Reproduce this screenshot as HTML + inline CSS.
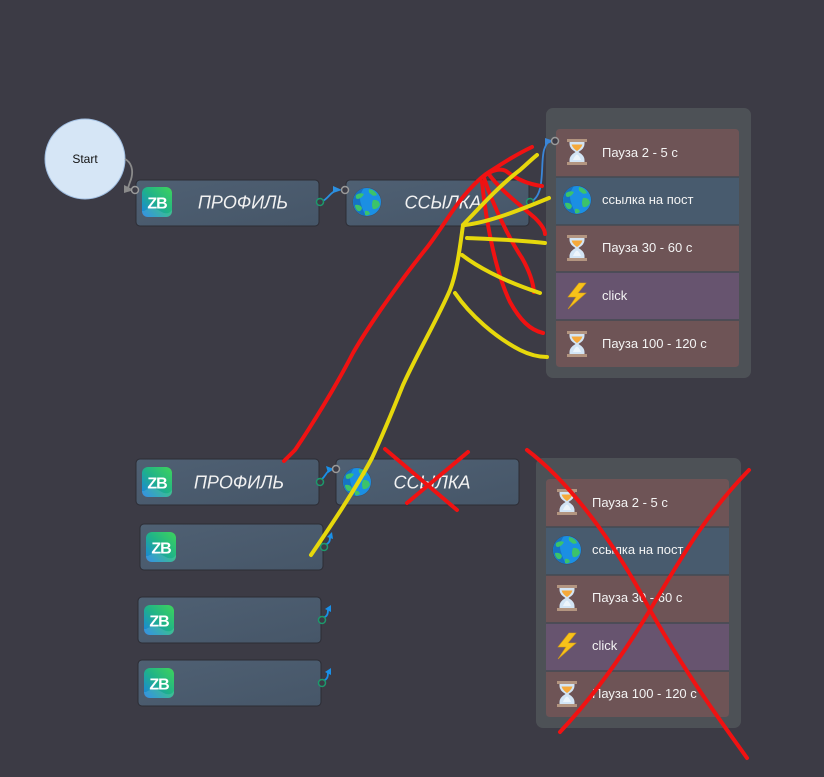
<!DOCTYPE html>
<html><head><meta charset="utf-8"><style>
html,body{margin:0;padding:0;background:#3c3b45;}
svg{display:block;}
</style></head><body>
<svg width="824" height="777" viewBox="0 0 824 777" xmlns="http://www.w3.org/2000/svg" font-family="'Liberation Sans', sans-serif">
<defs>
<linearGradient id="node" x1="0" y1="0" x2="1" y2="1">
<stop offset="0" stop-color="#4f6073"/><stop offset="1" stop-color="#465668"/>
</linearGradient>
<linearGradient id="zb" x1="1" y1="0" x2="0" y2="1">
<stop offset="0" stop-color="#3fd45a"/><stop offset="0.5" stop-color="#1fb28a"/><stop offset="1" stop-color="#1a7fe6"/>
</linearGradient>
<g id="zbi">
<rect x="0" y="0" width="30" height="30" rx="6" fill="url(#zb)"/>
<path d="M2,24 Q10,19 18,24 T30,23 L30,24 Q30,30 24,30 L6,30 Q0,30 0,24 Z" fill="#ffffff" opacity="0.12"/>
<text x="15" y="21.5" text-anchor="middle" font-size="16" font-weight="bold" fill="#fff" letter-spacing="-1">ZB</text>
</g>
<g id="globe">
<circle cx="0" cy="0" r="14.5" fill="#2a3a4a" opacity="0.35"/>
<circle cx="0" cy="0" r="14" fill="#1b8fe3"/>
<path d="M-3,-14 Q-9,-6 -6,2 Q-4,9 -1,14 Q-12,12 -14,0 Q-13,-11 -3,-14 Z" fill="#1673c4"/>
<path d="M-11,-7 Q-7,-10 -3,-8 Q-5,-4 -9,-3 Q-12,-3 -11,-7 Z" fill="#3cc36a"/>
<path d="M2,-13 Q8,-12 10,-7 Q6,-5 4,-8 Q1,-9 2,-13 Z" fill="#3cc36a"/>
<path d="M6,-2 Q12,-3 13,3 Q10,8 6,7 Q4,3 6,-2 Z" fill="#3cc36a"/>
<path d="M-12,3 Q-7,2 -5,6 Q-6,10 -9,9 Q-12,7 -12,3 Z" fill="#3cc36a"/>
<path d="M-2,9 Q2,8 3,12 Q0,14 -2,13 Z" fill="#3cc36a"/>
</g>
<g id="hg">
<rect x="0" y="0" width="20" height="3" fill="#b39580"/>
<rect x="0" y="23" width="20" height="3" fill="#b39580"/>
<path d="M2.5,3 L17.5,3 L17.5,5 Q17.5,9.5 11.5,13 Q17.5,16.5 17.5,21 L17.5,23 L2.5,23 L2.5,21 Q2.5,16.5 8.5,13 Q2.5,9.5 2.5,5 Z" fill="#d3e5f5"/>
<path d="M4.5,5.5 L15.5,5.5 Q14,9.5 10,12 Q6,9.5 4.5,5.5 Z" fill="#f5a93a"/>
<path d="M6,21 Q8,16 10,15.5 Q12,16 14,21 Z" fill="#ffffff" opacity="0.6"/>
</g>
<g id="bolt">
<path d="M12,0 L1,14 L9,14 L1,26 L19,10 L11,10 L19,0 Z" fill="#f7c21a" stroke="#d9a010" stroke-width="0.6"/>
</g>
</defs>

<!-- Start -->
<circle cx="85" cy="159" r="40" fill="#d6e6f6" stroke="#9fbde0" stroke-width="1"/>
<text x="85" y="163" text-anchor="middle" font-size="12" fill="#111">Start</text>
<path d="M125,159 C134,164 133,175 130,182 L128,188" fill="none" stroke="#8a8a8a" stroke-width="1.8"/>
<path d="M124,185 L134,190 L124,193 Z" fill="#8a8a8a"/>

<!-- Node ПРОФИЛЬ 1 -->
<rect x="136" y="180" width="183" height="46" rx="4" fill="url(#node)" stroke="#2c2c34" stroke-width="1"/>
<use href="#zbi" x="142" y="187"/>
<text x="243" y="208.5" text-anchor="middle" font-size="18" font-style="italic" fill="#f2f2f2">ПРОФИЛЬ</text>
<circle cx="135" cy="190" r="3.5" fill="#3c3b45" stroke="#9a9a9a" stroke-width="1.5"/>
<!-- connector 1 -->
<path d="M320,202 C328,200 330,192 337,190" fill="none" stroke="#2b8fe0" stroke-width="1.8"/>
<path d="M333,186 L342,190 L333,193 Z" fill="#2b8fe0"/>
<circle cx="320" cy="202" r="3.5" fill="#3c3b45" stroke="#1c9a6c" stroke-width="1.5"/>

<!-- Node ССЫЛКА 1 -->
<rect x="346" y="180" width="183" height="46" rx="4" fill="url(#node)" stroke="#2c2c34" stroke-width="1"/>
<use href="#globe" x="367" y="202"/>
<text x="443" y="208.5" text-anchor="middle" font-size="18" font-style="italic" fill="#f2f2f2">ССЫЛКА</text>
<circle cx="345" cy="190" r="3.5" fill="#3c3b45" stroke="#9a9a9a" stroke-width="1.5"/>

<!-- Group 1 -->
<rect x="546" y="108" width="205" height="270" rx="7" fill="#4d5156"/>
<path d="M556,133 Q556,129 560,129 L735,129 Q739,129 739,133 L739,177 L556,177 Z" fill="#6e5456"/>
<rect x="556" y="177" width="183" height="48" fill="#485b6e"/>
<rect x="556" y="225" width="183" height="47" fill="#6e5456"/>
<rect x="556" y="272" width="183" height="48" fill="#67546f"/>
<path d="M556,320 L739,320 L739,363 Q739,367 735,367 L560,367 Q556,367 556,363 Z" fill="#6e5456"/>
<g stroke="#434a52" stroke-width="1.5">
<line x1="556" y1="177" x2="739" y2="177"/><line x1="556" y1="225" x2="739" y2="225"/><line x1="556" y1="272" x2="739" y2="272"/><line x1="556" y1="320" x2="739" y2="320"/>
</g>
<use href="#hg" x="567" y="139"/>
<use href="#globe" x="577" y="200"/>
<use href="#hg" x="567" y="235"/>
<use href="#bolt" x="567" y="283"/>
<use href="#hg" x="567" y="331"/>
<g font-size="13" fill="#f4f4f4">
<text x="602" y="157">Пауза 2 - 5 с</text>
<text x="602" y="204">ссылка на пост</text>
<text x="602" y="252">Пауза 30 - 60 с</text>
<text x="602" y="300">click</text>
<text x="602" y="348">Пауза 100 - 120 с</text>
</g>
<!-- connector to group -->
<path d="M530,202 C546,196 540,165 544,150 C546,144 548,142 549,142" fill="none" stroke="#3a86d8" stroke-width="1.8"/>
<path d="M545,138 L554,141 L545,145 Z" fill="#3a86d8"/>
<circle cx="530" cy="202" r="3.5" fill="#3c3b45" stroke="#1c9a6c" stroke-width="1.5"/>
<circle cx="555" cy="141" r="3.5" fill="#3c3b45" stroke="#9a9a9a" stroke-width="1.5"/>

<!-- Bottom nodes -->
<rect x="136" y="459" width="183" height="46" rx="4" fill="url(#node)" stroke="#2c2c34" stroke-width="1"/>
<use href="#zbi" x="142" y="467"/>
<text x="239" y="488.5" text-anchor="middle" font-size="18" font-style="italic" fill="#f2f2f2">ПРОФИЛЬ</text>

<rect x="336" y="459" width="183" height="46" rx="4" fill="url(#node)" stroke="#2c2c34" stroke-width="1"/>
<use href="#globe" x="357" y="482"/>
<text x="432" y="488.5" text-anchor="middle" font-size="18" font-style="italic" fill="#f2f2f2">ССЫЛКА</text>

<rect x="140" y="524" width="183" height="46" rx="4" fill="url(#node)" stroke="#2c2c34" stroke-width="1"/>
<use href="#zbi" x="146" y="532"/>
<rect x="138" y="597" width="183" height="46" rx="4" fill="url(#node)" stroke="#2c2c34" stroke-width="1"/>
<use href="#zbi" x="144" y="605"/>
<rect x="138" y="660" width="183" height="46" rx="4" fill="url(#node)" stroke="#2c2c34" stroke-width="1"/>
<use href="#zbi" x="144" y="668"/>

<g fill="none" stroke="#1a90e8" stroke-width="1.8">
<path d="M321,480 C326,476 326,472 330,470"/>
<path d="M325,545 C330,543 330,540 330,537"/>
<path d="M323,618 C328,616 328,613 328,609"/>
<path d="M323,681 C328,679 328,676 328,672"/>
</g>
<g fill="#1a90e8">
<path d="M326,466 L334,469 L328,473 Z"/>
<path d="M327,537 L332,532 L333,539 Z"/>
<path d="M325,609 L331,605 L331,612 Z"/>
<path d="M325,672 L331,668 L331,675 Z"/>
</g>
<g fill="#3c3b45" stroke="#1c9a6c" stroke-width="1.5">
<circle cx="320" cy="482" r="3.5"/>
<circle cx="324" cy="547" r="3.5"/>
<circle cx="322" cy="620" r="3.5"/>
<circle cx="322" cy="683" r="3.5"/>
</g>
<circle cx="336" cy="469" r="3.5" fill="#3c3b45" stroke="#9a9a9a" stroke-width="1.5"/>

<!-- Group 2 -->
<rect x="536" y="458" width="205" height="270" rx="7" fill="#4d5156"/>
<path d="M546,483 Q546,479 550,479 L725,479 Q729,479 729,483 L729,527 L546,527 Z" fill="#6e5456"/>
<rect x="546" y="527" width="183" height="48" fill="#485b6e"/>
<rect x="546" y="575" width="183" height="48" fill="#6e5456"/>
<rect x="546" y="623" width="183" height="48" fill="#67546f"/>
<path d="M546,671 L729,671 L729,713 Q729,717 725,717 L550,717 Q546,717 546,713 Z" fill="#6e5456"/>
<g stroke="#434a52" stroke-width="1.5">
<line x1="546" y1="527" x2="729" y2="527"/><line x1="546" y1="575" x2="729" y2="575"/><line x1="546" y1="623" x2="729" y2="623"/><line x1="546" y1="671" x2="729" y2="671"/>
</g>
<use href="#hg" x="557" y="489"/>
<use href="#globe" x="567" y="550"/>
<use href="#hg" x="557" y="585"/>
<use href="#bolt" x="557" y="633"/>
<use href="#hg" x="557" y="681"/>
<g font-size="13" fill="#f4f4f4">
<text x="592" y="507">Пауза 2 - 5 с</text>
<text x="592" y="554">ссылка на пост</text>
<text x="592" y="602">Пауза 30 - 60 с</text>
<text x="592" y="650">click</text>
<text x="592" y="698">Пауза 100 - 120 с</text>
</g>

<!-- Red scribbles -->
<g fill="none" stroke="#f01212" stroke-width="4" stroke-linecap="round" stroke-linejoin="round">
<path d="M284,461 L295,450 C310,428 335,388 353,353 C372,320 405,275 425,250 C438,234 452,210 463,197 C472,186 478,180 486,174 C500,165 515,155 532,147"/>
<path d="M484,176 C492,170 500,168 506,171 C515,178 526,184 542,186"/>
<path d="M488,173 C500,190 520,205 535,218 C542,225 545,230 545,234"/>
<path d="M484,178 C495,210 510,240 522,258 C530,272 533,282 534,292"/>
<path d="M482,182 C487,230 497,275 510,302 C520,320 530,330 543,333"/>
<path d="M385,449 L457,510"/>
<path d="M468,452 L407,503"/>
<path d="M527,450 C560,475 605,525 650,610 C690,680 720,720 747,758"/>
<path d="M749,470 C705,515 680,560 650,610 C620,660 590,700 560,732"/>
</g>
<!-- Yellow scribbles -->
<g fill="none" stroke="#e6d80c" stroke-width="4" stroke-linecap="round" stroke-linejoin="round">
<path d="M311,555 C330,527 355,490 372,458 C385,430 392,412 403,385 C418,352 438,318 450,290 C456,275 459,255 463,225"/>
<path d="M463,225 C480,207 500,185 520,170 C528,163 533,158 537,155"/>
<path d="M465,225 C490,222 520,210 549,198"/>
<path d="M467,238 C490,239 520,240 545,243"/>
<path d="M462,255 C475,265 500,280 540,293"/>
<path d="M455,293 C470,315 495,337 520,350 C530,355 540,357 547,357"/>
</g>
</svg>
</body></html>
